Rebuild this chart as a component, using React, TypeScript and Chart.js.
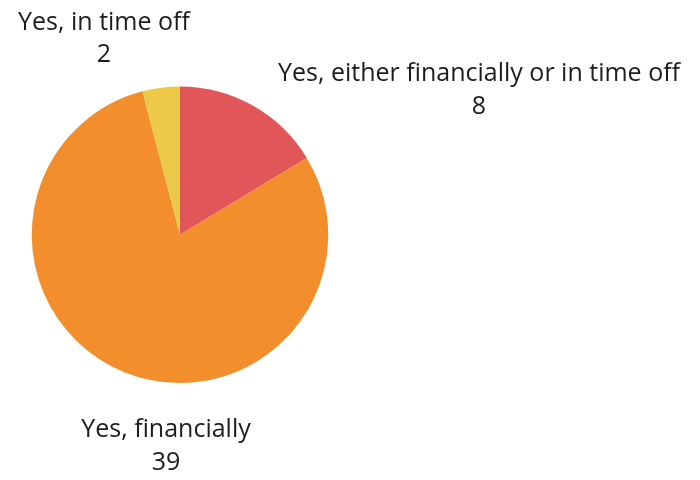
import React, { useEffect, useRef } from "react";
import { Chart, registerables } from "chart.js";

Chart.register(...registerables);

const categories = ["Yes, either financially or in time off", "Yes, financially", "Yes, in time off"];
const counts = [8, 39, 2];
const sliceColors = ["#E15759", "#F28E2B", "#EDC948"];

// label placement relative to pie centre (px): [dx of text centre, dy of first baseline]
const labelOffsets: [number, number][] = [
  [299, -153.5],
  [-14, 202.5],
  [-76, -205],
];

const labelPlugin = {
  id: "outsideLabels",
  afterDatasetsDraw(chart: any) {
    const ctx = chart.ctx;
    const meta = chart.getDatasetMeta(0);
    ctx.save();
    ctx.font = "25px 'Open Sans', sans-serif";
    ctx.fillStyle = "#1c1c1c";
    ctx.textAlign = "center";
    ctx.textBaseline = "alphabetic";
    meta.data.forEach((arc: any, i: number) => {
      const cx = arc.x + labelOffsets[i][0];
      const cy = arc.y + labelOffsets[i][1];
      ctx.fillText(categories[i], cx, cy);
      ctx.fillText(String(counts[i]), cx, cy + 32.5);
    });
    ctx.restore();
  },
};

export default function App() {
  const ref = useRef<HTMLCanvasElement>(null);
  useEffect(() => {
    document.body.style.margin = "0";
    const chart = new Chart(ref.current!, {
      type: "pie",
      data: {
        labels: categories,
        datasets: [
          {
            data: counts,
            backgroundColor: sliceColors,
            borderWidth: 0,
          },
        ],
      },
      options: {
        animation: false,
        responsive: false,
        layout: { padding: { top: 86.5, bottom: 97, left: 31.75, right: 371.75 } },
        plugins: { legend: { display: false }, tooltip: { enabled: false } },
      },
      plugins: [labelPlugin],
    });
    return () => chart.destroy();
  }, []);
  return <canvas ref={ref} width={700} height={480} style={{ display: "block" }} />;
}
